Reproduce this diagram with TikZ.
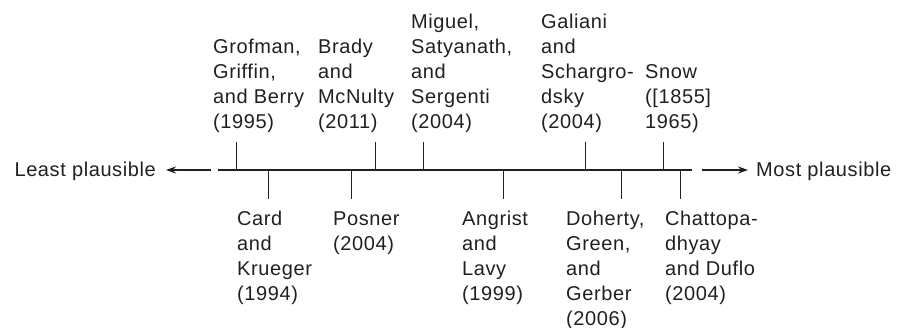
\documentclass[tikz,border=0pt]{standalone}
\usepackage{fontspec}
\setmainfont{Liberation Sans}[LetterSpace=3]
\usetikzlibrary{arrows.meta}
\definecolor{ink}{HTML}{231F20}
\begin{document}
\begin{tikzpicture}[x=1pt,y=-1pt,
  lbl/.style={inner sep=0pt, align=left, font=\fontsize{20}{25}\selectfont, text=ink},
  axisline/.style={draw=ink, line width=1.2pt},
  tickline/.style={draw=ink, line width=1pt},
  dirarrow/.style={draw=ink, line width=1.2pt, -{Stealth[length=10pt,width=7pt]}}]
\useasboundingbox (0,0) rectangle (902,328);

% the scale itself
\coordinate (axl) at (218,170);
\coordinate (axr) at (692,170);
\draw[axisline] (axl) -- (axr);

% end labels with their arrows
\node[lbl, anchor=base east] (least) at (156,177) {Least plausible};
\node[lbl, anchor=base west] (most) at (756,177) {Most plausible};
\coordinate (lstart) at (211,170);
\coordinate (rstart) at (702,170);
\draw[dirarrow, shorten >=10pt] (lstart) -- (least.east |- lstart);
\draw[dirarrow, shorten >=8pt] (rstart) -- (most.west |- rstart);

% studies above the scale
\node[lbl, anchor=south west] (grofman) at (213,136.5) {Grofman,\\Griffin,\\and Berry\\(1995)\strut};
\node[lbl, anchor=south west] (brady) at (318,136.5) {Brady\\and\\McNulty\\(2011)\strut};
\node[lbl, anchor=south west] (miguel) at (411,136.5) {Miguel,\\Satyanath,\\and\\Sergenti\\(2004)\strut};
\node[lbl, anchor=south west] (galiani) at (541,136.5) {Galiani\\and\\Schargro-\\dsky\\(2004)\strut};
\node[lbl, anchor=south west] (snow) at (645,136.5) {Snow\\({[}1855{]}\\1965)\strut};

% studies below the scale
\node[lbl, anchor=north west] (card) at (237,207.5) {\strut Card\\and\\Krueger\\(1994)};
\node[lbl, anchor=north west] (posner) at (333,207.5) {\strut Posner\\(2004)};
\node[lbl, anchor=north west] (angrist) at (462,207.5) {\strut Angrist\\and\\Lavy\\(1999)};
\node[lbl, anchor=north west] (doherty) at (566,207.5) {\strut Doherty,\\Green,\\and\\Gerber\\(2006)};
\node[lbl, anchor=north west] (chatto) at (665,207.5) {\strut Chattopa-\\dhyay\\and Duflo\\(2004)};

% tick positions on the scale
\coordinate (tgrofman) at (236,170);
\coordinate (tbrady) at (375,170);
\coordinate (tmiguel) at (423,170);
\coordinate (tgaliani) at (585,170);
\coordinate (tsnow) at (663,170);
\coordinate (tcard) at (268,170);
\coordinate (tposner) at (351,170);
\coordinate (tangrist) at (503,170);
\coordinate (tdoherty) at (621,170);
\coordinate (tchatto) at (680,170);

\foreach \t/\n in {tgrofman/grofman, tbrady/brady, tmiguel/miguel, tgaliani/galiani, tsnow/snow}
  \draw[tickline, shorten >=5.5pt] (\t) -- (\t |- \n.south);
\foreach \t/\n in {tcard/card, tposner/posner, tangrist/angrist, tdoherty/doherty, tchatto/chatto}
  \draw[tickline, shorten >=8.5pt] (\t) -- (\t |- \n.north);
\end{tikzpicture}
\end{document}
